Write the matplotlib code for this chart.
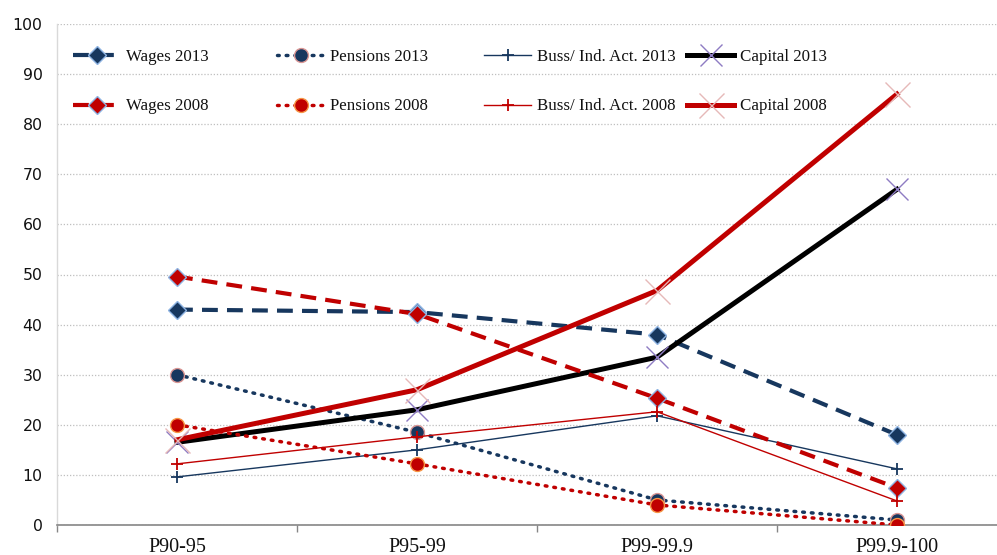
import matplotlib
matplotlib.use("Agg")
import matplotlib.pyplot as plt
from matplotlib.ticker import FixedLocator

categories = ["P90-95", "P95-99", "P99-99.9", "P99.9-100"]
wages_2013 = [43, 42.5, 38, 18]
pensions_2013 = [30, 18.5, 5, 1]
buss_2013 = [9.6, 15, 21.8, 11.2]
capital_2013 = [16.5, 23, 33.5, 67]
wages_2008 = [49.6, 42.1, 25.3, 7.4]
pensions_2008 = [20, 12.2, 4, 0]
buss_2008 = [12.2, 17.6, 22.6, 4.8]
capital_2008 = [17, 27, 46.8, 86]
y_ticks = [0, 10, 20, 30, 40, 50, 60, 70, 80, 90, 100]

NAVY = "#17375E"
RED = "#C00000"
BLACK = "#000000"

W, H = 997, 555
fig = plt.figure(figsize=(W / 100, H / 100), dpi=100)
ax = fig.add_axes([57 / W, 30 / H, 960 / W, 501 / H])

x = list(range(len(categories)))

lines = {}
lines["Wages 2013"] = ax.plot(x, wages_2013, color=NAVY, lw=3.0, dashes=(3.8, 2.2),
                              marker="D", ms=9.5, mfc=NAVY, mec="#8DB3E2", mew=1.0, zorder=3)[0]
lines["Pensions 2013"] = ax.plot(x, pensions_2013, color=NAVY, lw=2.5, dashes=(0.5, 2.0),
                                 dash_capstyle="round", marker="o", ms=10, mfc=NAVY,
                                 mec="#D99694", mew=1.0, zorder=3)[0]
lines["Buss/ Ind. Act. 2013"] = ax.plot(x, buss_2013, color=NAVY, lw=1.0, marker="+",
                                        ms=9, mew=1.3, zorder=3)[0]
lines["Capital 2013"] = ax.plot(x, capital_2013, color=BLACK, lw=3.6, marker="x", ms=16,
                                mec="#8E7CC3", mew=1.0, zorder=3)[0]
lines["Wages 2008"] = ax.plot(x, wages_2008, color=RED, lw=3.0, dashes=(3.8, 2.2),
                              marker="D", ms=9.5, mfc=RED, mec="#8DB3E2", mew=1.0, zorder=4)[0]
lines["Pensions 2008"] = ax.plot(x, pensions_2008, color=RED, lw=2.5, dashes=(0.5, 2.0),
                                 dash_capstyle="round", marker="o", ms=10, mfc=RED,
                                 mec="#F79646", mew=1.0, zorder=4)[0]
lines["Buss/ Ind. Act. 2008"] = ax.plot(x, buss_2008, color=RED, lw=1.0, marker="+",
                                        ms=9, mew=1.3, zorder=4)[0]
lines["Capital 2008"] = ax.plot(x, capital_2008, color=RED, lw=3.6, marker="x", ms=18,
                                mec="#E6B9B8", mew=1.0, zorder=4)[0]

ax.set_xlim(-0.5, len(categories) - 0.5)
ax.set_ylim(0, 100)
ax.set_yticks(y_ticks)
ax.set_yticklabels([str(v) for v in y_ticks], fontfamily="DejaVu Sans", fontsize=11.3,
                   color="#111111")
ax.tick_params(axis="y", length=0, pad=10.5)
ax.set_xticks(x)
ax.set_xticklabels(categories, fontfamily="Liberation Serif", fontsize=14.5, color="#111111")
ax.tick_params(axis="x", which="major", length=0, pad=9)
ax.xaxis.set_minor_locator(FixedLocator([i + 0.5 for i in range(-1, len(categories))]))
ax.tick_params(axis="x", which="minor", length=5, width=1, color="#868686", direction="out")

ax.yaxis.grid(True, color="#BFBFBF", lw=0.9, linestyle=(0, (1, 1.5)))
ax.set_axisbelow(True)
for s in ["top", "right"]:
    ax.spines[s].set_visible(False)
ax.spines["bottom"].set_color("#868686")
ax.spines["bottom"].set_linewidth(1.2)
ax.spines["left"].set_color("#D9D9D9")
ax.spines["left"].set_linewidth(1.0)

# legend: four columns placed individually
col_x = [73, 277, 484, 687]
cols = [["Wages 2013", "Wages 2008"],
        ["Pensions 2013", "Pensions 2008"],
        ["Buss/ Ind. Act. 2013", "Buss/ Ind. Act. 2008"],
        ["Capital 2013", "Capital 2008"]]
yc = 1 - 81.5 / H
for cx, names in zip(col_x, cols):
    leg = fig.legend([lines[n] for n in names], names, loc="center left",
                     bbox_to_anchor=(cx / W, yc), bbox_transform=fig.transFigure,
                     frameon=False, borderpad=0, borderaxespad=0,
                     handlelength=2.8, handletextpad=0.3, labelspacing=2.0,
                     numpoints=1, prop={"family": "Liberation Serif", "size": 12.2})
    for t in leg.get_texts():
        t.set_color("#111111")

fig.savefig("out.png", dpi=100)
